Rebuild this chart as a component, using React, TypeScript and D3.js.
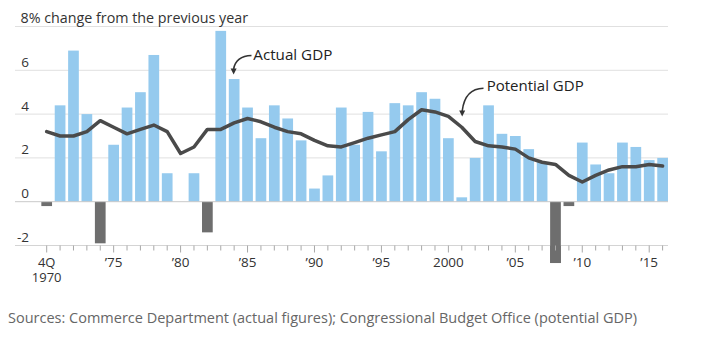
import React from "react";
import * as d3 from "d3";

const years: number[] = d3.range(1970, 2017);
const actualGDP: number[] = [
  -0.2, 4.4, 6.9, 4.0, -1.9, 2.6, 4.3, 5.0, 6.7, 1.3,
  0.0, 1.3, -1.4, 7.8, 5.6, 4.3, 2.9, 4.4, 3.8, 2.8,
  0.6, 1.2, 4.3, 2.6, 4.1, 2.3, 4.5, 4.4, 5.0, 4.7,
  2.9, 0.2, 2.0, 4.4, 3.1, 3.0, 2.4, 1.8, -2.8, -0.2,
  2.7, 1.7, 1.3, 2.7, 2.5, 1.9, 2.0,
];
const potentialGDP: number[] = [
  3.2, 3.0, 3.0, 3.2, 3.7, 3.4, 3.1, 3.3, 3.5, 3.2,
  2.2, 2.5, 3.3, 3.3, 3.6, 3.8, 3.65, 3.4, 3.2, 3.1,
  2.8, 2.55, 2.5, 2.7, 2.9, 3.05, 3.2, 3.75, 4.2, 4.1,
  3.9, 3.4, 2.75, 2.55, 2.5, 2.4, 2.0, 1.8, 1.7, 1.2,
  0.9, 1.2, 1.45, 1.6, 1.6, 1.7, 1.63,
];
const yTicks: number[] = [-2, 0, 2, 4, 6];
const xLabelYears: number[] = [1975, 1980, 1985, 1990, 1995, 2000, 2005, 2010, 2015];
const xLabels: string[] = ["’75", "’80", "’85", "’90", "’95", "2000", "’05", "’10", "’15"];
const firstLabel: string[] = ["4Q", "1970"];
const titleText = "8% change from the previous year";
const sourceText = "Sources: Commerce Department (actual figures); Congressional Budget Office (potential GDP)";

const FONT = "'Open Sans', 'Noto Sans', sans-serif";

export default function App() {
  const W = 701, H = 340;
  const x = d3.scaleBand<number>().domain(years).range([40, 669.3]).paddingInner(0.2).paddingOuter(0.1);
  const y = d3.scaleLinear().domain([-2, 8]).range([245.5, 26.5]);
  const cx = (yr: number) => (x(yr) as number) + x.bandwidth() / 2;
  const gridX0 = 15, gridX1 = 668;

  const line = d3.line<number>()
    .x((_, i) => cx(years[i]))
    .y((d) => y(d))
    .curve(d3.curveLinear);

  return (
    <svg width={W} height={H} style={{ position: "absolute", left: 0, top: 0, background: "#fff" }} fontFamily={FONT}>
      {[8, 6, 4, 2].map((v) => (
        <line key={"g" + v} x1={gridX0} x2={gridX1} y1={y(v)} y2={y(v)} stroke="#e0e0e0" strokeWidth={1} />
      ))}
      {years.map((yr, i) => {
        const v = actualGDP[i];
        if (v === 0) return null;
        const y0 = y(0), y1 = y(v);
        return (
          <rect key={"b" + yr} x={x(yr)} width={x.bandwidth()} y={Math.min(y0, y1)} height={Math.abs(y1 - y0)}
            fill={v >= 0 ? "#95caee" : "#6e6e6e"} />
        );
      })}
      <line x1={gridX0} x2={gridX1} y1={y(0)} y2={y(0)} stroke="#c9c9c9" strokeWidth={1} />
      <line x1={gridX0} x2={gridX1} y1={y(-2)} y2={y(-2)} stroke="#d4d4d4" strokeWidth={1} />
      {years.map((yr, i) => {
        const v = actualGDP[i];
        if (v >= -2) return null;
        return <rect key={"bb" + yr} x={x(yr)} width={x.bandwidth()} y={y(-2) - 0.5} height={y(v) - y(-2) + 0.5} fill="#6e6e6e" />;
      })}
      {years.map((yr) => (
        <line key={"t" + yr} x1={cx(yr)} x2={cx(yr)} y1={y(-2)} y2={y(-2) + (yr % 5 === 0 ? 7 : 5)} stroke="#a8a8a8" strokeWidth={1} />
      ))}
      <path d={line(potentialGDP) || ""} fill="none" stroke="#4a4a4a" strokeWidth={3.5} strokeLinejoin="round" strokeLinecap="round" />
      <text x={20.5} y={y(8) - 4} fontSize={14.3} fill="#333">{titleText}</text>
      {yTicks.map((v) => (
        <text key={"yl" + v} x={29} y={y(v) - 3.5} fontSize={13.5} fill="#333" textAnchor="end">
          {v < 0 ? "-" + Math.abs(v) : String(v)}
        </text>
      ))}
      <text fontSize={13} fill="#333" textAnchor="middle">
        <tspan x={cx(1970)} y={266.8}>{firstLabel[0]}</tspan>
        <tspan x={cx(1970)} y={282}>{firstLabel[1]}</tspan>
      </text>
      {xLabelYears.map((yr, i) => (
        <text key={"xl" + yr} x={cx(yr)} y={267.3} fontSize={13.5} fill="#333" textAnchor="middle">{xLabels[i]}</text>
      ))}
      <text x={253.3} y={60} fontSize={15.2} fill="#222">Actual GDP</text>
      <path d="M251.5,55.5 Q236,56 233.6,69" fill="none" stroke="#333" strokeWidth={1.6} />
      <path d="M230.6,68.5 L236.6,68.5 L233.6,74.5 Z" fill="#333" />
      <text x={486.7} y={90.7} fontSize={15} fill="#222">Potential GDP</text>
      <path d="M483.5,88.3 Q465,88.5 462.2,111" fill="none" stroke="#333" strokeWidth={1.6} />
      <path d="M459.2,110.5 L465.2,110.5 L462.2,116.5 Z" fill="#333" />
      <text x={8} y={322.7} fontSize={14.5} fill="#666">{sourceText}</text>
    </svg>
  );
}
